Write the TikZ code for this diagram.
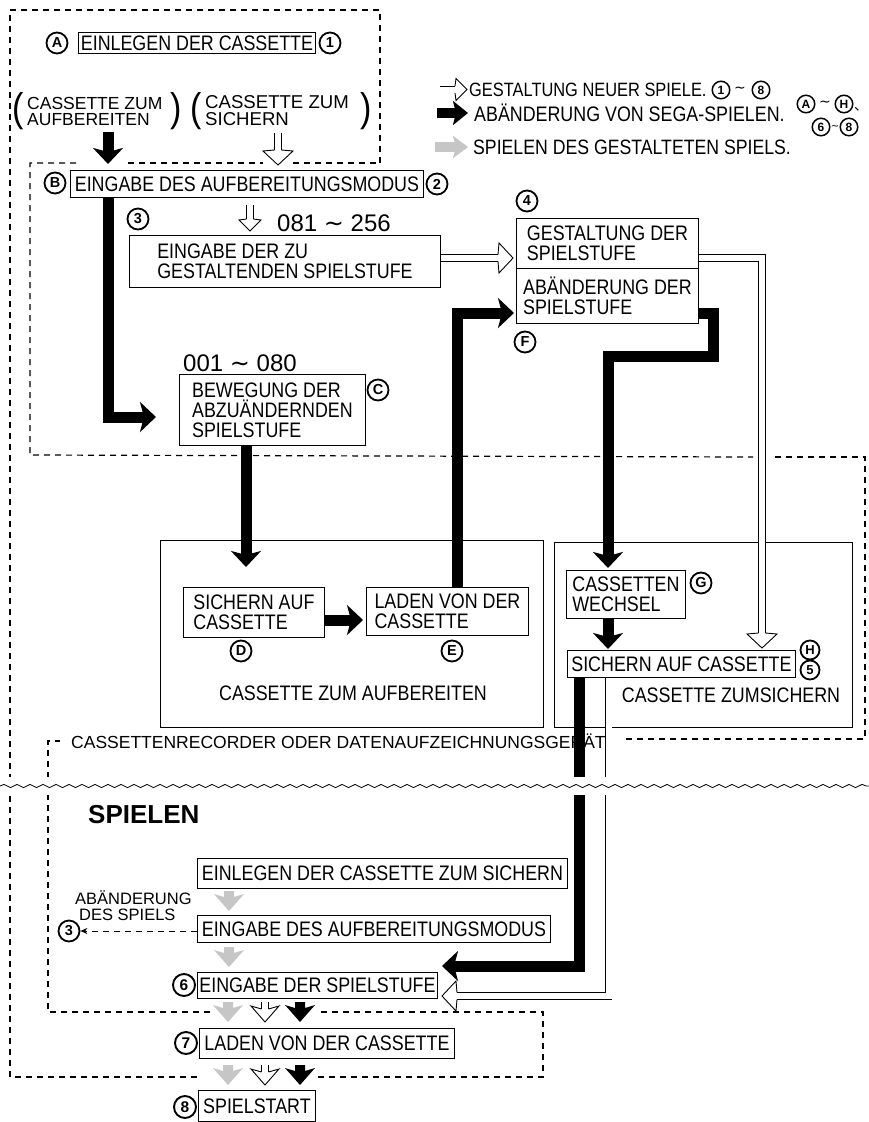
\documentclass[tikz,border=0pt]{standalone}
\usepackage{fontspec}
\setmainfont{Liberation Sans}
\newfontfamily\nf[FakeStretch=0.85]{Liberation Sans}
\newfontfamily\wf{Liberation Sans}
\newfontfamily\dv{DejaVu Sans}
\newfontfamily\cjk{Noto Sans CJK JP}
\usetikzlibrary{arrows.meta,decorations.pathmorphing}
\newcommand\fsz[2]{\fontsize{#1}{#2}\selectfont}
\tikzset{
  box/.style={draw, line width=0.9pt, inner sep=0pt, align=left, anchor=north west, font=\nf\fsz{21}{20}},
  frame/.style={draw, line width=0.9pt, inner sep=0pt, anchor=north west},
  txt/.style={inner sep=0pt, font=\nf\fsz{21}{20}},
  leg/.style={inner sep=0pt, anchor=west, font=\nf\fsz{20.5}{20}},
  wtxt/.style={inner sep=0pt, align=left, anchor=west, font=\wf\fsz{17.5}{16}},
  small/.style={inner sep=0pt, anchor=west, font=\wf\fsz{16.5}{16}},
  num/.style={inner sep=0pt, anchor=west, font=\wf\fsz{24}{24}},
  par/.style={inner sep=0pt, font=\nf\fsz{40}{40}},
  circ/.style={circle, draw, line width=1.8pt, inner sep=0pt, minimum size=21pt, font=\wf\bfseries\fsz{14.5}{14.5}},
  bcirc/.style={circ, minimum size=22pt, line width=1.9pt, font=\wf\bfseries\fsz{15.5}{15.5}},
  scirc/.style={circ, minimum size=19pt, font=\wf\bfseries\fsz{13}{13}},
  lcirc/.style={circ, minimum size=17.5pt, line width=1.5pt, font=\wf\bfseries\fsz{12}{12}},
  tl/.style={inner sep=0pt, font=\dv\fsz{14}{14}},
  dsh/.style={line width=1.2pt, dash pattern=on 6pt off 5pt},
  blk/.style={line width=11pt, line join=miter, -{Stealth[width=30pt,length=16pt,inset=4pt]}},
  hol/.style={line width=0.9pt, double distance=6pt, line join=miter},
  hd/.pic={\draw[line width=0.9pt, fill=white, line join=miter] (-3.45,-15) -- (-15,-14) -- (0,0) -- (15,-14) -- (3.45,-15);},
  hds/.pic={\draw[line width=0.9pt, fill=white, line join=miter] (-3.45,-12) -- (-11,-11) -- (0,0) -- (11,-11) -- (3.45,-12);},
  garr/.pic={\fill[gray!45] (-5,-10) -- (5,-10) -- (5,-4) -- (15,-7) -- (0,10) -- (-15,-7) -- (-5,-4) -- cycle;},
  barr/.pic={\fill[black] (-5,-10) -- (5,-10) -- (5,-4) -- (15,-7) -- (0,10) -- (-15,-7) -- (-5,-4) -- cycle;},
  harr/.pic={\draw[line width=0.9pt] (-3.45,-10) -- (-3.45,-3) (3.45,-10) -- (3.45,-3);
             \draw[line width=0.9pt, fill=white, line join=miter] (-3.45,-3) -- (-14,-6) -- (0,10) -- (14,-6) -- (3.45,-3);}
}
\begin{document}
\begin{tikzpicture}[x=1pt,y=-1pt]
\fill[white] (0,0) rectangle (869,1122);
\path[use as bounding box] (0,0) rectangle (869,1122);

% ---------- dashed regions ----------
\draw[dsh] (380,163) -- (380,10) -- (10,10) -- (10,1077) -- (200,1077);
\draw[dsh] (318,1077) -- (543,1077) -- (543,1012) -- (318,1012);
\draw[dsh] (210,1012) -- (48,1012) -- (48,741) -- (60,741);
\draw[dsh] (76,163) -- (30,163) -- (30,455) -- (753,457);
\draw[dsh] (128,163) -- (263,163);
\draw[dsh] (293,163) -- (380,163);
\draw[dsh] (775,457) -- (865,457) -- (865,739) -- (622,739);

% ---------- top section ----------
\node[circ] (cA) at (57,43) {A};
\node[box, minimum width=237pt, minimum height=21pt] (b1) at (78,32) {EINLEGEN DER CASSETTE};
\node[circ] (c1) at (330,43) {1};

\node[par] (pl1) at (18,111) {(};
\node[wtxt] (t1) at (27,111) {CASSETTE ZUM\\AUFBEREITEN};
\node[par] (pr1) at (176,111) {)};
\node[par] (pl2) at (196,111) {(};
\node[wtxt, font=\wf\fsz{18.6}{17}] (t2) at (205,111) {CASSETTE ZUM\\SICHERN};
\node[par] (pr2) at (366,111) {)};

% legend
\coordinate (lh1) at (440,89.5); \coordinate (lh2) at (455,89.5);
\draw[hol] (lh1) -- (lh2);
\path (467,89.5) pic[rotate=90] {hds};
\node[leg, font=\nf\fsz{19.3}{20}] (lg1) at (469,90) {GESTALTUNG NEUER SPIELE.};
\node[lcirc] (lc1) at (721,90) {1};
\node[tl] (lt1) at (740,90) {∼};
\node[lcirc] (lc8) at (761,90) {8};

\coordinate (lb1) at (437,113); \coordinate (lb2) at (468,113);
\draw[line width=10pt, -{Stealth[width=24pt,length=15pt,inset=3pt]}] (lb1) -- (lb2);
\node[leg, font=\nf\fsz{21}{20}] (lg2) at (474,113) {ABÄNDERUNG VON SEGA-SPIELEN.};
\node[lcirc] (lcA) at (806,104) {A};
\node[tl] (lt2) at (825,104) {∼};
\node[lcirc] (lcH) at (844,104) {H};
\node[inner sep=0pt, font=\cjk\fsz{14}{14}] (lcm) at (861,109) {、};
\node[lcirc] (lc6) at (821,127) {6};
\node[tl, font=\dv\fsz{10}{10}] (lt3) at (835,127) {∼};
\node[lcirc] (lc8b) at (849,127) {8};

\coordinate (lg1a) at (435,147); \coordinate (lg2a) at (468,147);
\draw[gray!45, line width=10pt, -{Stealth[width=22pt,length=15pt,inset=3pt]}] (lg1a) -- (lg2a);
\node[leg, font=\nf\fsz{20.8}{20}] (lg3) at (473,147) {SPIELEN DES GESTALTETEN SPIELS.};

% ---------- editing section ----------
\node[circ] (cB) at (55,183) {B};
\node[box, minimum width=353pt, minimum height=27pt] (bB) at (70,170) {EINGABE DES AUFBEREITUNGSMODUS};
\node[circ] (c2) at (437,184) {2};

\node[circ] (c3) at (138,219) {3};
\node[num] (n1) at (277,223) {081 {\dv ∼} 256};
\node[box, minimum width=311pt, minimum height=52pt] (b3) at (129,235) {EINGABE DER ZU\\GESTALTENDEN SPIELSTUFE};

\node[num] (n2) at (183,363) {001 {\dv ∼} 080};
\node[box, minimum width=186pt, minimum height=71pt] (bC) at (179,374) {BEWEGUNG DER\\ABZUÄNDERNDEN\\SPIELSTUFE};
\node[circ] (cC) at (378,390) {C};

\node[circ] (c4) at (527,201) {4};
\node[box, minimum width=182pt, minimum height=50pt] (b4) at (516,218) {GESTALTUNG DER\\SPIELSTUFE};
\node[box, minimum width=182pt, minimum height=55pt] (bF) at (516,268) {ABÄNDERUNG DER\\SPIELSTUFE};
\node[circ] (cF) at (525,342) {F};

% ---------- cassette section ----------
\node[frame, minimum width=383pt, minimum height=187pt] (oD) at (160,540) {};
\node[box, minimum width=141pt, minimum height=50pt] (bD) at (183,587) {SICHERN AUF\\CASSETTE};
\node[box, minimum width=162pt, minimum height=48pt] (bE) at (366,587) {LADEN VON DER\\CASSETTE};
\node[circ] (cD) at (241,651) {D};
\node[circ] (cE) at (452,651) {E};
\node[txt] (tD) at (353,693) {CASSETTE ZUM AUFBEREITEN};

\node[frame, minimum width=298pt, minimum height=185pt] (oS) at (554,542) {};
\node[box, minimum width=119pt, minimum height=48pt] (bG) at (566,570) {CASSETTEN\\WECHSEL};
\node[circ] (cG) at (701,583) {G};
\node[box, minimum width=228pt, minimum height=27pt] (bH) at (567,650) {SICHERN AUF CASSETTE};
\node[scirc] (cH) at (810,650) {H};
\node[scirc] (c5) at (810,670) {5};
\node[txt] (tS) at (731,695) {CASSETTE ZUMSICHERN};

\node[inner sep=0pt, anchor=west, font=\wf\fsz{17.5}{17.5}] (rec) at (71,741) {CASSETTENRECORDER ODER DATENAUFZEICHNUNGSGERÄT};

% ---------- play section ----------
\node[inner sep=0pt, anchor=west, font=\wf\bfseries\fsz{26}{26}] (sp) at (88,815) {SPIELEN};
\node[box, minimum width=370pt, minimum height=30pt] (p1) at (197,858) {EINLEGEN DER CASSETTE ZUM SICHERN};
\node[small] (ab1) at (75,898) {ABÄNDERUNG};
\node[small] (ab2) at (79,915) {DES SPIELS};
\node[circ] (c3b) at (69,931) {3};
\node[box, minimum width=353pt, minimum height=27pt] (p2) at (197,915) {EINGABE DES AUFBEREITUNGSMODUS};
\node[bcirc] (c6) at (184,985) {6};
\node[box, minimum width=240pt, minimum height=26pt] (p3) at (197,972) {EINGABE DER SPIELSTUFE};
\node[bcirc] (c7) at (186,1043) {7};
\node[box, minimum width=255pt, minimum height=30pt] (p4) at (199,1028) {LADEN VON DER CASSETTE};
\node[bcirc] (c8) at (185,1107) {8};
\node[box, minimum width=117pt, minimum height=31pt] (p5) at (198,1090) {SPIELSTART};

\draw[dsh, line width=1pt, -{Stealth[length=7pt,width=6pt]}] (p2.west |- c3b) -- (c3b.east);

\path (229,901) pic {garr};
\path (229,957) pic {garr};
\path (228,1012) pic {garr};
\path (265,1012) pic {harr};
\path (300,1012) pic {barr};
\path (228,1075) pic {garr};
\path (265,1075) pic {harr};
\path (300,1075) pic {barr};

% ---------- connectors ----------
\coordinate (xA) at (108,0);
\coordinate (kA) at (108,164);
\draw[blk] (108,132) -- (kA);
\draw[hol] (278,133) -- (278,150);
\path (278,165) pic {hd};

\coordinate (kC) at (156,417);
\draw[blk] (bB.south -| xA) |- (kC);

\draw[hol] (250,205) -- (250,219);
\path (250,231) pic {hds};

\coordinate (xC) at (246,0);
\draw[blk] (bC.south -| xC) -- (246,567);
\coordinate (kE) at (363,620);
\draw[blk] (bD.east |- kE) -- (kE);

\coordinate (xE) at (457,0);
\coordinate (kF) at (514,313);
\draw[blk] (bE.north -| xE) |- (kF);

\coordinate (kG1) at (713,313);
\coordinate (kG2) at (608,356);
\draw[blk] (bF.east |- kG1) -- (kG1) |- (kG2) -- (608,568);
\draw[blk] (bG.south -| kG2) -- (608,649);

\coordinate (x6a) at (579,0);
\coordinate (k6a) at (442,966);
\draw[blk] (bH.south -| x6a) |- (k6a);

\coordinate (x6b) at (608.5,0);
\coordinate (k6b) at (457,996);
\draw[hol] (bH.south -| x6b) |- (k6b);
\path (442,996) pic[rotate=-90] {hd};

\coordinate (k4a) at (498,258);
\draw[hol] (b3.east |- k4a) -- (k4a);
\path (513,258) pic[rotate=90] {hd};

\coordinate (kH) at (762,633);
\draw[hol] (b4.east |- k4a) -| (kH);
\path (762,648) pic {hd};

% ---------- wavy break ----------
\fill[white] (0,777) rectangle (869,795);
\draw[line width=0.8pt, decorate, decoration={snake, amplitude=1.6pt, segment length=13pt}] (0,786) -- (869,786);
\end{tikzpicture}
\end{document}
